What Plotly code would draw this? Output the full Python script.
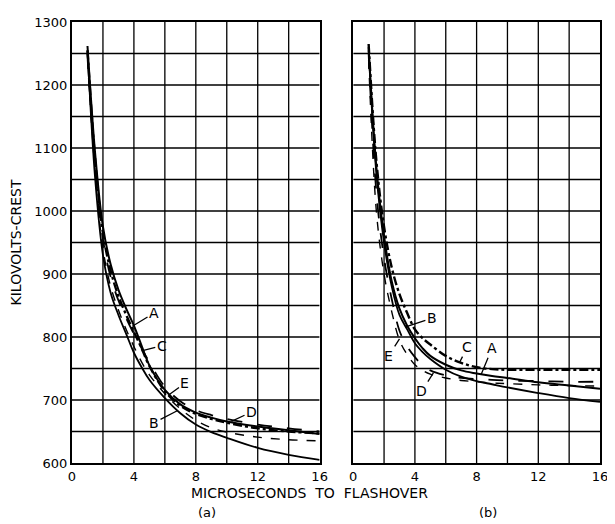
import plotly.graph_objects as go

# microseconds to flashover (shared sample points)
t_a = [1, 1.5, 2, 2.5, 3, 3.5, 4, 4.5, 5, 6, 7, 8, 9, 10, 12, 14, 16]
t_b = [1, 1.5, 2, 2.5, 3, 3.5, 4, 4.5, 5, 6, 7, 8, 9, 10, 12, 14, 16]

# panel (a) kilovolts crest
a_A = [1262, 1090, 975, 915, 875, 845, 818, 786, 755, 716, 693, 680, 672, 666, 658, 652, 646]
a_B = [1255, 1050, 930, 870, 835, 805, 775, 752, 732, 703, 679, 661, 649, 640, 624, 613, 605]
a_C = [1255, 1080, 965, 905, 865, 835, 808, 782, 754, 714, 691, 678, 670, 664, 655, 650, 647]
a_D = [1250, 1070, 955, 895, 858, 830, 805, 782, 760, 721, 698, 684, 676, 670, 661, 655, 650]
a_E = [1240, 1060, 940, 880, 843, 812, 785, 760, 740, 710, 686, 668, 656, 649, 641, 637, 635]

# panel (b) kilovolts crest
b_A = [1260, 1070, 960, 888, 845, 818, 798, 782, 770, 756, 747, 742, 738, 735, 728, 723, 718]
b_B = [1255, 1060, 950, 880, 835, 812, 790, 776, 765, 748, 737, 730, 725, 720, 711, 703, 697]
b_C = [1265, 1080, 975, 910, 868, 838, 812, 798, 788, 770, 759, 752, 749, 748, 748, 748, 748]
b_D = [1250, 1030, 925, 860, 810, 785, 768, 755, 747, 739, 735, 733, 732, 731, 730, 729, 729]
b_E = [1240, 1000, 900, 840, 795, 772, 756, 747, 741, 735, 731, 729, 727, 726, 724, 723, 722]

styles = {
    'A': dict(dash='solid', width=2),
    'B': dict(dash='solid', width=1.8),
    'C': dict(dash='dashdot', width=2.4),
    'D': dict(dash='longdash', width=1.8),
    'E': dict(dash='dash', width=1.4),
}

fig = go.Figure()
for name, ys in [('B', a_B), ('E', a_E), ('D', a_D), ('C', a_C), ('A', a_A)]:
    fig.add_trace(go.Scatter(x=t_a, y=ys, mode='lines', name=name, line_shape='spline',
                             line=dict(color='black', **styles[name]), xaxis='x', yaxis='y'))
for name, ys in [('B', b_B), ('E', b_E), ('D', b_D), ('C', b_C), ('A', b_A)]:
    fig.add_trace(go.Scatter(x=t_b, y=ys, mode='lines', name=name, line_shape='spline',
                             line=dict(color='black', **styles[name]), xaxis='x2', yaxis='y2'))

# curve labels: (text, tip x, tip y, label x, label y, axis suffix)
labels = [
    ('A', 3.9, 817, 5.3, 838, ''),
    ('C', 4.5, 778, 5.8, 786, ''),
    ('E', 6.2, 707, 7.3, 727, ''),
    ('B', 6.8, 683, 5.3, 664, ''),
    ('D', 10.3, 666, 11.6, 681, ''),
    ('B', 3.4, 816, 5.1, 830, '2'),
    ('E', 3.0, 797, 2.3, 770, '2'),
    ('C', 6.9, 760, 7.4, 784, '2'),
    ('A', 8.3, 741, 9.0, 782, '2'),
    ('D', 5.2, 743, 4.45, 714, '2'),
]
for txt, x, y, lx, ly, s in labels:
    fig.add_annotation(text=txt, x=x, y=y, ax=lx, ay=ly, xref='x' + s, yref='y' + s,
                       axref='x' + s, ayref='y' + s, showarrow=True, arrowhead=0,
                       arrowwidth=1.3, arrowcolor='black', standoff=0,
                       font=dict(size=14, color='black', family='DejaVu Sans'))

axis_common = dict(range=[0, 16], dtick=4, showgrid=False, showline=True, linecolor='black',
                   linewidth=2, mirror=True, ticks='', zeroline=False, ticklabeloverflow='allow',
                   tickfont=dict(size=13, color='black', family='DejaVu Sans'))
yaxis_common = dict(range=[600, 1300], dtick=100, showgrid=False, showline=True, linecolor='black',
                    linewidth=2, mirror=True, ticks='', zeroline=False,
                    tickfont=dict(size=13, color='black', family='DejaVu Sans'))

# grid every 2 us and every 50 kV
grid_x = list(range(2, 16, 2))
grid_y = list(range(650, 1300, 50))
for s in ['', '2']:
    for gx in grid_x:
        fig.add_shape(type='line', xref='x' + s, yref='y' + s, x0=gx, x1=gx, y0=600, y1=1300,
                      line=dict(color='black', width=1.3), layer='below')
    for gy in grid_y:
        fig.add_shape(type='line', xref='x' + s, yref='y' + s, x0=0, x1=16, y0=gy, y1=gy,
                      line=dict(color='black', width=1.6), layer='below')

fig.add_annotation(text='MICROSECONDS  TO  FLASHOVER', xref='paper', yref='paper', x=0.449, y=-0.068,
                   yanchor='middle', showarrow=False,
                   font=dict(size=14, color='black', family='DejaVu Sans'))
fig.add_annotation(text='(a)', xref='paper', yref='paper', x=0.235, y=-0.112,
                   yanchor='middle', showarrow=False,
                   font=dict(size=13, color='black', family='DejaVu Sans'))
fig.add_annotation(text='(b)', xref='paper', yref='paper', x=0.808, y=-0.112,
                   yanchor='middle', showarrow=False,
                   font=dict(size=13, color='black', family='DejaVu Sans'))

# page body has an 8px margin, so the figure is sized to end at the window edge
fig.update_layout(
    width=607, height=516,
    margin=dict(l=63, r=7, t=10, b=61),
    paper_bgcolor='white', plot_bgcolor='white',
    showlegend=False,
    xaxis=dict(domain=[0, 0.469], **axis_common),
    xaxis2=dict(domain=[0.5326, 1], **axis_common),
    yaxis=dict(title=dict(text='KILOVOLTS-CREST', font=dict(size=14, color='black', family='DejaVu Sans'),
                          standoff=10), **yaxis_common),
    yaxis2=dict(anchor='x2', showticklabels=False, **yaxis_common),
)
fig.write_html("out.html")
